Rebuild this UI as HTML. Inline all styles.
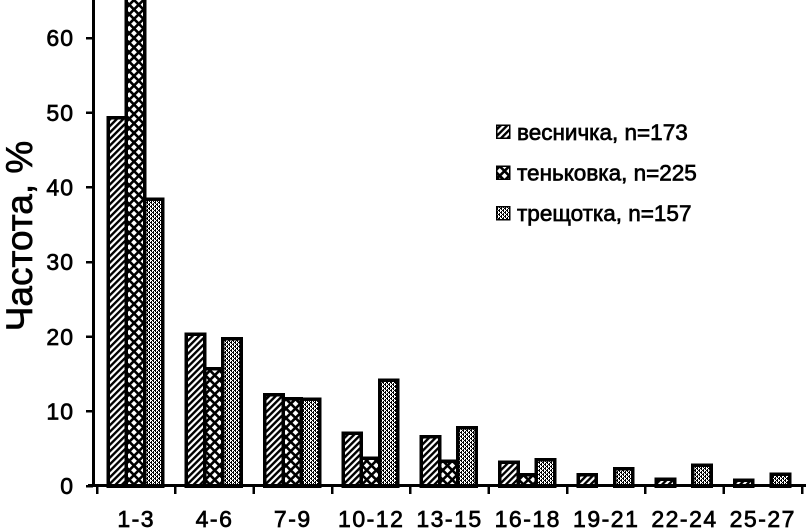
<!DOCTYPE html>
<html>
<head>
<meta charset="utf-8">
<style>
  html, body { margin: 0; padding: 0; background: #fff; }
  svg { display: block; }
  text { font-family: "Liberation Sans", "DejaVu Sans", sans-serif; fill: #000; stroke: #000; stroke-width: 0.7px; }
</style>
</head>
<body>
<svg width="807" height="529" viewBox="0 0 807 529" xmlns="http://www.w3.org/2000/svg">
  <defs>
    <pattern id="hatch" patternUnits="userSpaceOnUse" width="4.6" height="10" patternTransform="rotate(45)">
      <rect x="0" y="0" width="4.6" height="10" fill="#fff"/>
      <rect x="0" y="0" width="2.4" height="10" fill="#000"/>
    </pattern>
    <pattern id="cross" patternUnits="userSpaceOnUse" width="9.5" height="9.5" x="1" y="0">
      <rect x="0" y="0" width="9.5" height="9.5" fill="#fff"/>
      <path d="M0,0 L9.5,9.5 M9.5,0 L0,9.5 M-1,8.5 L1,10.5 M8.5,-1 L10.5,1 M8.5,10.5 L10.5,8.5 M-1,1 L1,-1" stroke="#000" stroke-width="2.6" fill="none"/>
    </pattern>
    <pattern id="stip" patternUnits="userSpaceOnUse" width="4" height="4">
      <rect x="0" y="0" width="4" height="4" fill="#fff"/>
      <rect x="0" y="0" width="2" height="1" fill="#000"/>
      <rect x="2" y="2" width="2" height="1" fill="#000"/>
      <rect x="1" y="1" width="1" height="1" fill="#000"/>
      <rect x="3" y="3" width="1" height="1" fill="#000"/>
      <rect x="3" y="1" width="1" height="1" fill="#000"/>
      <rect x="1" y="3" width="1" height="1" fill="#000"/>
    </pattern>
  </defs>

  <rect x="0" y="0" width="807" height="529" fill="#fff"/>

  <!-- Bars -->
  <g stroke="#000" stroke-width="3.5" shape-rendering="crispEdges">
    <!-- 1-3 -->
    <rect x="108" y="117.9" width="18.3" height="368.1" fill="url(#hatch)"/>
    <rect x="126.3" y="-2" width="18.3" height="488" fill="url(#cross)"/>
    <rect x="144.6" y="199.3" width="18.3" height="286.7" fill="url(#stip)"/>
    <!-- 4-6 -->
    <rect x="186.3" y="334.4" width="18.3" height="151.6" fill="url(#hatch)"/>
    <rect x="204.6" y="368.8" width="18.3" height="117.2" fill="url(#cross)"/>
    <rect x="222.9" y="338.9" width="18.3" height="147.1" fill="url(#stip)"/>
    <!-- 7-9 -->
    <rect x="264.7" y="394.9" width="18.3" height="91.1" fill="url(#hatch)"/>
    <rect x="283.0" y="398.6" width="18.3" height="87.4" fill="url(#cross)"/>
    <rect x="301.3" y="399.4" width="18.3" height="86.6" fill="url(#stip)"/>
    <!-- 10-12 -->
    <rect x="343.0" y="433.0" width="18.3" height="53.0" fill="url(#hatch)"/>
    <rect x="361.3" y="458.4" width="18.3" height="27.6" fill="url(#cross)"/>
    <rect x="379.6" y="380.0" width="18.3" height="106.0" fill="url(#stip)"/>
    <!-- 13-15 -->
    <rect x="421.3" y="436.7" width="18.3" height="49.3" fill="url(#hatch)"/>
    <rect x="439.6" y="461.4" width="18.3" height="24.6" fill="url(#cross)"/>
    <rect x="457.9" y="427.8" width="18.3" height="58.2" fill="url(#stip)"/>
    <!-- 16-18 -->
    <rect x="499.7" y="462.1" width="18.3" height="23.9" fill="url(#hatch)"/>
    <rect x="518.0" y="474.8" width="18.3" height="11.2" fill="url(#cross)"/>
    <rect x="536.3" y="459.9" width="18.3" height="26.1" fill="url(#stip)"/>
    <!-- 19-21 -->
    <rect x="578.0" y="474.8" width="18.3" height="11.2" fill="url(#hatch)"/>
    <rect x="614.6" y="468.8" width="18.3" height="17.2" fill="url(#stip)"/>
    <!-- 22-24 -->
    <rect x="656.3" y="479.3" width="18.3" height="6.7" fill="url(#hatch)"/>
    <rect x="692.9" y="465.1" width="18.3" height="20.9" fill="url(#stip)"/>
    <!-- 25-27 -->
    <rect x="734.6" y="480.0" width="18.3" height="6.0" fill="url(#hatch)"/>
    <rect x="771.2" y="474.1" width="18.3" height="11.9" fill="url(#stip)"/>
  </g>

  <!-- Axes -->
  <g stroke="#000" shape-rendering="crispEdges">
    <line x1="93.5" y1="0" x2="93.5" y2="487" stroke-width="3"/>
    <line x1="88" y1="485.5" x2="806" y2="485.5" stroke-width="3"/>
    <!-- y ticks -->
    <g stroke-width="2.5">
      <line x1="86" y1="486" x2="93" y2="486"/>
      <line x1="86" y1="411.3" x2="93" y2="411.3"/>
      <line x1="86" y1="336.7" x2="93" y2="336.7"/>
      <line x1="86" y1="262" x2="93" y2="262"/>
      <line x1="86" y1="187.3" x2="93" y2="187.3"/>
      <line x1="86" y1="112.7" x2="93" y2="112.7"/>
      <line x1="86" y1="38" x2="93" y2="38"/>
    </g>
    <!-- x ticks -->
    <g stroke-width="2.5">
      <line x1="97" y1="486" x2="97" y2="494"/>
      <line x1="175.3" y1="486" x2="175.3" y2="494"/>
      <line x1="253.7" y1="486" x2="253.7" y2="494"/>
      <line x1="332" y1="486" x2="332" y2="494"/>
      <line x1="410.3" y1="486" x2="410.3" y2="494"/>
      <line x1="488.7" y1="486" x2="488.7" y2="494"/>
      <line x1="567" y1="486" x2="567" y2="494"/>
      <line x1="645.3" y1="486" x2="645.3" y2="494"/>
      <line x1="723.7" y1="486" x2="723.7" y2="494"/>
      <line x1="802" y1="486" x2="802" y2="494"/>
    </g>
  </g>

  <!-- Y tick labels -->
  <g font-size="23" text-anchor="end" letter-spacing="1">
    <text x="74" y="494">0</text>
    <text x="74" y="419.5">10</text>
    <text x="74" y="345">20</text>
    <text x="74" y="270.2">30</text>
    <text x="74" y="195.5">40</text>
    <text x="74" y="121">50</text>
    <text x="74" y="46.2">60</text>
  </g>

  <!-- X labels -->
  <g font-size="23" text-anchor="middle" letter-spacing="1.5">
    <text x="136.2" y="527">1-3</text>
    <text x="214.5" y="527">4-6</text>
    <text x="292.8" y="527">7-9</text>
    <text x="371.2" y="527">10-12</text>
    <text x="449.5" y="527">13-15</text>
    <text x="527.8" y="527">16-18</text>
    <text x="606.2" y="527">19-21</text>
    <text x="684.5" y="527">22-24</text>
    <text x="762.8" y="527">25-27</text>
  </g>

  <!-- Y axis title -->
  <text x="32" y="236" font-size="37" text-anchor="middle" transform="rotate(-90 32 236)">Частота, %</text>

  <!-- Legend -->
  <g stroke="#000" stroke-width="1.5" shape-rendering="crispEdges">
    <rect x="496.5" y="125" width="13" height="13" fill="url(#hatch)"/>
    <rect x="496.5" y="166" width="13" height="13" fill="url(#cross)"/>
    <rect x="496.5" y="206.5" width="13" height="13" fill="url(#stip)"/>
  </g>
  <g font-size="22.5">
    <text x="517" y="140">весничка, n=173</text>
    <text x="517" y="180.5">теньковка, n=225</text>
    <text x="517" y="221">трещотка, n=157</text>
  </g>
</svg>
</body>
</html>
